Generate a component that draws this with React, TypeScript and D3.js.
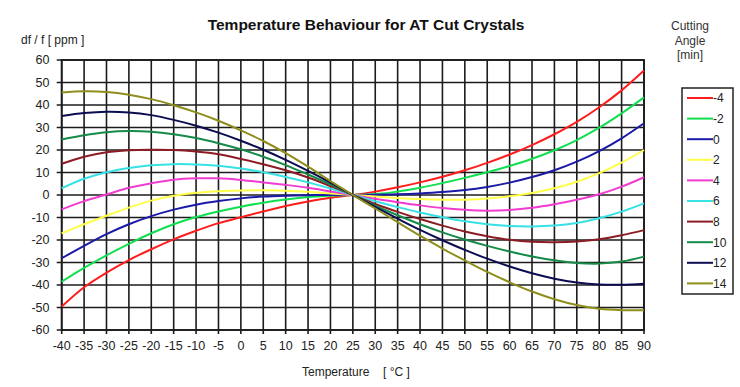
import React from "react";
import * as d3 from "d3";

const temps = [-40, -35, -30, -25, -20, -15, -10, -5, 0, 5, 10, 15, 20, 25, 30, 35, 40, 45, 50, 55, 60, 65, 70, 75, 80, 85, 90];

const angles = ["-4", "-2", "0", "2", "4", "6", "8", "10", "12", "14"];
const colors = ["#ff1c1c", "#10e050", "#1a1aa6", "#ffff4a", "#f03cd0", "#36e2e6", "#8c1c24", "#168a48", "#0c0c50", "#8e8e1c"];

const sM4 = [-49.6, -41, -34.5, -28.9, -24.1, -19.7, -15.9, -12.5, -9.9, -7.3, -4.9, -2.9, -1.2, 0, 1.5, 3.4, 5.6, 8.1, 11.0, 14.3, 18.0, 22.2, 27.0, 32.5, 39.0, 46.5, 55.3];
const sM2 = [-38.5, -32.4, -26.8, -21.7, -17.0, -13.0, -9.8, -7.3, -5.2, -3.4, -2.0, -0.9, -0.3, 0, 0.4, 1.5, 3.2, 5.3, 7.6, 10.1, 12.9, 16.1, 19.9, 24.4, 29.9, 36.3, 43.4];
const s0 = [-28.1, -22.6, -17.4, -13.0, -9.4, -6.5, -4.3, -2.7, -1.5, -0.7, -0.3, -0.1, 0, 0, 0.1, 0.3, 0.7, 1.3, 2.2, 3.6, 5.5, 8.0, 11.0, 14.8, 19.5, 25.2, 31.9];
const s2 = [-17, -13.0, -9.2, -5.6, -2.5, -0.3, 1.0, 1.7, 2.0, 2.1, 1.9, 1.4, 0.7, 0, -0.7, -1.3, -1.8, -2.1, -2.1, -1.6, -0.6, 0.9, 3.0, 5.9, 9.7, 14.4, 20];
const s4 = [-6.4, -2.7, 0.2, 3.2, 5.2, 6.8, 7.4, 7.4, 6.7, 5.6, 4.5, 3.2, 1.6, 0, -1.7, -3.2, -4.6, -5.8, -6.6, -7.0, -6.7, -5.7, -4.1, -2.1, 0.3, 3.7, 7.9];
const s6 = [3.0, 7.2, 10.1, 12.0, 13.2, 13.7, 13.6, 13.0, 11.8, 10.1, 8.0, 5.6, 2.9, 0, -2.8, -5.4, -7.8, -9.9, -11.7, -13.0, -13.8, -14.0, -13.6, -12.4, -10.3, -7.4, -3.7];
const s8 = [13.9, 17.0, 19.0, 19.9, 20.1, 20.0, 19.3, 18.1, 16.0, 13.7, 11.0, 7.8, 4.0, 0, -4.0, -7.5, -10.7, -13.6, -16.2, -18.3, -19.9, -20.8, -21.0, -20.7, -19.7, -17.9, -15.6];
const s10 = [24.7, 26.6, 27.9, 28.4, 28.1, 27.0, 25.3, 23.0, 20.3, 17.0, 13.3, 9.1, 4.7, 0, -4.7, -9.0, -13.0, -16.6, -19.8, -22.6, -25.1, -27.3, -29.0, -30.2, -30.5, -29.6, -27.4];
const s12 = [35.1, 36.4, 37.0, 36.7, 35.5, 33.4, 30.8, 27.7, 24.1, 20.1, 15.6, 10.7, 5.5, 0, -5.3, -10.5, -15.5, -20.1, -24.4, -28.3, -31.8, -34.8, -37.2, -38.9, -39.8, -39.9, -39.4];
const s14 = [45.6, 46.1, 45.8, 44.6, 42.6, 39.9, 36.7, 33.0, 28.7, 24.0, 18.6, 12.6, 6.2, 0, -6.0, -12.1, -18.1, -23.8, -29.1, -34.2, -38.8, -42.9, -46.3, -48.9, -50.6, -51.2, -51.2];

const series = [sM4, sM2, s0, s2, s4, s6, s8, s10, s12, s14];

const xTicks = d3.range(-40, 91, 5);
const yTicks = d3.range(-60, 61, 10);

const W = 740;
const H = 387;
const left = 61.7;
const right = 644;
const top = 60;
const bottom = 330;
const font = "'Liberation Sans', Arial, sans-serif";

export default function App() {
  const x = d3.scaleLinear().domain([-40, 90]).range([left, right]);
  const y = d3.scaleLinear().domain([-60, 60]).range([bottom, top]);
  const line = d3
    .line<number>()
    .x((_, i) => x(temps[i]))
    .y((d) => y(d))
    .curve(d3.curveCatmullRom.alpha(0.5));

  const gridColor = "#1c1c1c";
  const legX = 682;
  const legY = 88;
  const legStep = 20.6;

  return (
    <svg
      width={W}
      height={H}
      style={{ position: "absolute", left: 0, top: 0, background: "#fff" }}
      fontFamily={font}
    >
      <rect x={0} y={0} width={W} height={H} fill="#fff" />
      <text x={366} y={30} textAnchor="middle" fontSize={15.5} fontWeight="bold" fill="#111">
        Temperature Behaviour for AT Cut Crystals
      </text>
      <text x={21} y={43.5} fontSize={12} fill="#222">
        df / f [ ppm ]
      </text>
      {/* grid */}
      {xTicks.map((t) => (
        <line key={"gx" + t} x1={x(t)} x2={x(t)} y1={top} y2={bottom + 4} stroke={gridColor} strokeWidth={1.6} />
      ))}
      {yTicks.map((t) => (
        <line key={"gy" + t} x1={left - 5} x2={right} y1={y(t)} y2={y(t)} stroke={gridColor} strokeWidth={1.6} />
      ))}
      <rect x={left} y={top} width={right - left} height={bottom - top} fill="none" stroke={gridColor} strokeWidth={1.8} />
      {/* curves */}
      {series.map((s, i) => (
        <path key={"s" + i} d={line(s) || ""} fill="none" stroke={colors[i]} strokeWidth={2} />
      ))}
      {/* y labels */}
      {yTicks.map((t) => (
        <text key={"yl" + t} x={49.5} y={y(t) + 4.3} textAnchor="end" fontSize={12.5} fill="#222">
          {t}
        </text>
      ))}
      {xTicks.map((t) => (
        <text key={"xl" + t} x={x(t)} y={349.5} textAnchor="middle" fontSize={12.5} fill="#222">
          {t}
        </text>
      ))}
      <text x={302} y={375.5} fontSize={12} fill="#222">
        Temperature
      </text>
      <text x={383} y={375.5} fontSize={12} fill="#222">
        [ °C ]
      </text>
      {/* legend title */}
      {["Cutting", "Angle", "[min]"].map((s, i) => (
        <text key={"lt" + i} x={690} y={30 + i * 14.5} textAnchor="middle" fontSize={12} fill="#333">
          {s}
        </text>
      ))}
      <rect x={legX} y={legY} width={51} height={206} fill="#fff" stroke="#222" strokeWidth={1.5} />
      {angles.map((a, i) => (
        <g key={"lg" + i}>
          <line x1={687} x2={713} y1={legY + 10 + i * legStep} y2={legY + 10 + i * legStep} stroke={colors[i]} strokeWidth={2} />
          <text x={713} y={legY + 14.3 + i * legStep} fontSize={12} fill="#222">
            {a}
          </text>
        </g>
      ))}
    </svg>
  );
}
